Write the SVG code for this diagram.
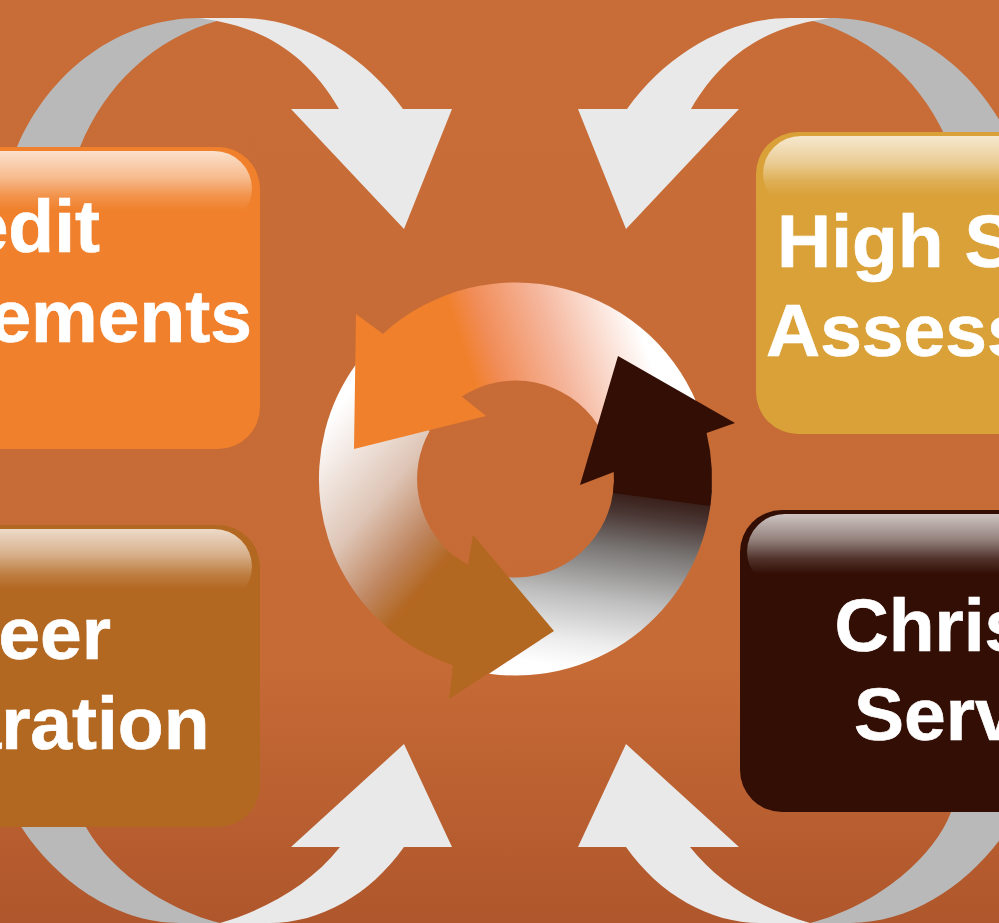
<svg xmlns="http://www.w3.org/2000/svg" xmlns:xlink="http://www.w3.org/1999/xlink" width="999" height="923" viewBox="0 0 999 923">
<defs>
<linearGradient id="bg" x1="0" y1="0" x2="0" y2="1"><stop offset="0" stop-color="#C86D38"/><stop offset="0.72" stop-color="#C66B36"/><stop offset="1" stop-color="#AF562C"/></linearGradient>
<linearGradient id="gloss" x1="0" y1="0" x2="0" y2="1"><stop offset="0" stop-color="#fff" stop-opacity="0.76"/><stop offset="0.35" stop-color="#fff" stop-opacity="0.47"/><stop offset="0.6" stop-color="#fff" stop-opacity="0.15"/><stop offset="0.8" stop-color="#fff" stop-opacity="0"/></linearGradient>
<linearGradient id="gA" gradientUnits="userSpaceOnUse" x1="460" y1="340" x2="625" y2="285"><stop offset="0" stop-color="#F0802B"/><stop offset="0.15" stop-color="#F18C57"/><stop offset="0.5" stop-color="#F5B59B"/><stop offset="1" stop-color="#fff"/></linearGradient>
<linearGradient id="gB" gradientUnits="userSpaceOnUse" x1="660" y1="500" x2="637" y2="676"><stop offset="0" stop-color="#3A211C"/><stop offset="0.1" stop-color="#4A3734"/><stop offset="0.3" stop-color="#787573"/><stop offset="0.6" stop-color="#BFBFBF"/><stop offset="0.85" stop-color="#EDEDED"/><stop offset="1" stop-color="#fff"/></linearGradient>
<linearGradient id="gC" gradientUnits="userSpaceOnUse" x1="285" y1="470" x2="423" y2="588"><stop offset="0" stop-color="#fff"/><stop offset="0.5" stop-color="#DEC5B6"/><stop offset="0.8" stop-color="#BF8660"/><stop offset="1" stop-color="#B26721"/></linearGradient>
<g id="top-curve">
<path class="g" d="M17 147C50 70 120 18 200 18H217V21C155 38 105 85 80 147Z"/>
<path class="w" d="M200 18H240C300 18 362 52 403 109H452L404 229L291 109H339C308 55 265 30 217 21Z"/>
</g>
<g id="bottom-curve">
<path class="g" d="M951 812C935 855 880 905 810 923H850C915 923 975 880 1010 825L1005 800H955Z"/>
<path class="w" d="M810 923H760C710 923 660 895 626 847H578L626 744L739 847H690C720 885 765 910 810 923Z"/>
</g>
</defs>
<style>
.w{fill:#E9E9E9}.g{fill:#B9B9B9}
.t{font-family:"Liberation Sans",Arial,sans-serif;font-weight:700;font-size:75px;fill:#fff;stroke:#fff;stroke-width:0.7px}
.e{text-anchor:end}
</style>
<rect width="999" height="923" fill="url(#bg)"/>
<g id="connectors">
<use id="arrow-top-left" xlink:href="#top-curve" href="#top-curve"/>
<use id="arrow-top-right" xlink:href="#top-curve" href="#top-curve" transform="matrix(-1 0 0 1 1030 0)"/>
<use id="arrow-bottom-right" xlink:href="#bottom-curve" href="#bottom-curve"/>
<use id="arrow-bottom-left" xlink:href="#bottom-curve" href="#bottom-curve" transform="matrix(-1 0 0 1 1030 0)"/>
</g>
<g id="node-credit">
<rect x="-60" y="147" width="320" height="302" rx="42" fill="#F0802B"/>
<rect x="-60" y="151" width="312" height="75" rx="38" fill="url(#gloss)"/>
<text class="t e" x="100" y="252">edit</text>
<text class="t e" x="252" y="342">ements</text>
</g>
<g id="node-career">
<rect x="-60" y="525" width="320" height="302" rx="42" fill="#B36821"/>
<rect x="-60" y="529" width="312" height="75" rx="38" fill="url(#gloss)"/>
<text class="t e" x="111" y="659">eer</text>
<text class="t e" x="209.500" y="749">aration</text>
</g>
<g id="node-high-school">
<rect x="756" y="132" width="320" height="302" rx="42" fill="#D9A138"/>
<rect x="763" y="136" width="312" height="75" rx="38" fill="url(#gloss)"/>
<text class="t" x="777" y="267">High S</text>
<text class="t" x="766" y="356">Assess</text>
</g>
<g id="node-christian">
<rect x="740" y="510" width="320" height="302" rx="42" fill="#320E05"/>
<rect x="747" y="514" width="312" height="75" rx="38" fill="url(#gloss)"/>
<text class="t" x="834.500" y="651">Chris</text>
<text class="t" x="854" y="740">Serv</text>
</g>
<g id="cycle">
<path id="seg-white" fill="url(#gC)" d="M356.200 363.900A196.500 196.500 0 0 0 387.700 628.300L452 554.200A98.500 98.500 0 0 1 429.600 430.900Z"/>
<path id="seg-grey" fill="url(#gB)" d="M613.900 482A98.500 98.500 0 0 1 508 577.200L540 640L489 673.700A196.500 196.500 0 0 0 711.900 490Z"/>
<path id="seg-orange" fill="url(#gA)" d="M383 333.900A196.500 196.500 0 0 1 701.600 415.800L597.500 424.400A98.500 98.500 0 0 0 461.700 396.500L486 416L354 449L356 314Z"/>
<path id="seg-brown" fill="#B36821" d="M387.700 628.300A196.500 196.500 0 0 0 452.900 665.300L449 699L554 631L473 535L468 565L452 554.200Z"/>
<path id="seg-dark" fill="#320E05" d="M618 356L735 423L706.600 433.100A196.500 196.500 0 0 1 710.100 506L613 493A98.500 98.500 0 0 0 613.750 472L580 485Z"/>
</g>
</svg>
